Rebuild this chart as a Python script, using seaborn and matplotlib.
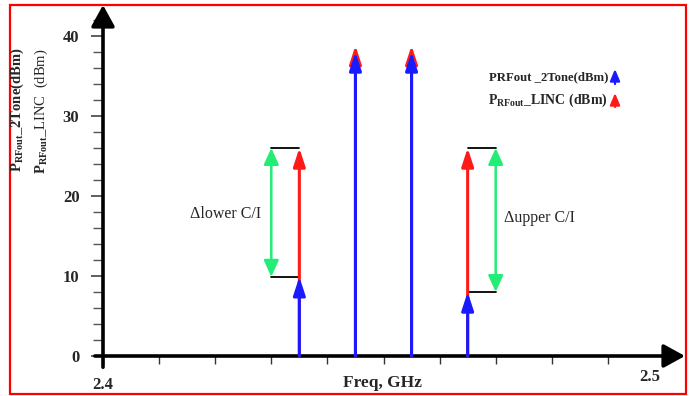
import matplotlib
matplotlib.use("Agg")
import matplotlib.pyplot as plt
from matplotlib.patches import Rectangle
from matplotlib.ticker import MultipleLocator
import seaborn as sns

# Two-tone / LINC output spectrum around 2.45 GHz
tone_freq = [2.435, 2.445, 2.455, 2.465]       # GHz: lower IM3, f1, f2, upper IM3
p_2tone = [9.9, 38.0, 38.0, 8.0]               # dBm, PRFout_2Tone
p_linc = [26.0, 38.8, 38.8, 26.0]              # dBm, PRFout_LINC
ci_freq = [2.43, 2.47]                         # marker positions for the C/I spans
ci_idx = [0, 3]                                # which tones the C/I spans refer to
ci_labels = ["\u0394lower C/I", "\u0394upper C/I"]
y_ticks = [0, 10, 20, 30, 40]
x_ticks = [2.40, 2.41, 2.42, 2.43, 2.44, 2.45, 2.46, 2.47, 2.48, 2.49, 2.50]

sns.set_theme(style="white")
plt.rcParams["font.family"] = ["Liberation Serif", "DejaVu Serif"]
plt.rcParams["mathtext.fontset"] = "custom"
plt.rcParams["mathtext.rm"] = "Liberation Serif"
plt.rcParams["mathtext.bf"] = "Liberation Serif:bold"
plt.rcParams["mathtext.it"] = "Liberation Serif:italic"

W, H = 691, 396
fig = plt.figure(figsize=(W / 100, H / 100), dpi=100)
fig.patch.set_facecolor("white")
ax = fig.add_axes([103 / W, 40 / H, 582 / W, 351 / H])
ax.set_facecolor("white")
ax.set_xlim(2.4, 2.4 + 582 / 5610)
ax.set_ylim(0, 351 / 8)
for s in ax.spines.values():
    s.set_visible(False)

# axis lines with arrow heads
ax.annotate("", xy=(0, 1), xytext=(0, -0.032), xycoords="axes fraction",
            arrowprops=dict(arrowstyle="-|>,head_length=1.0,head_width=0.55",
                            lw=2.6, color="black", mutation_scale=13,
                            shrinkA=0, shrinkB=0), annotation_clip=False)
ax.annotate("", xy=(1, 0), xytext=(-0.014, 0), xycoords="axes fraction",
            arrowprops=dict(arrowstyle="-|>,head_length=1.0,head_width=0.55",
                            lw=2.6, color="black", mutation_scale=13,
                            shrinkA=0, shrinkB=0), annotation_clip=False)

# ticks
ax.set_yticks(y_ticks)
ax.set_yticklabels([str(v) for v in y_ticks])
ax.yaxis.set_minor_locator(MultipleLocator(2))
ax.set_xticks(x_ticks)
ax.set_xticklabels(["2.4"] + [""] * (len(x_ticks) - 1))
ax.tick_params(axis="y", which="major", direction="out", length=9, width=1.1,
               color="#333333", pad=8, labelsize=12, left=True)
ax.tick_params(axis="y", which="minor", direction="out", length=7, width=1.0,
               color="#555555", left=True)
ax.tick_params(axis="x", which="major", direction="out", length=6, width=1.0,
               color="#333333", pad=9, labelsize=12, bottom=True)
for lab in ax.get_yticklabels() + ax.get_xticklabels():
    lab.set_fontweight("bold")
ax.text(2.4975, -2.6, "2.5", ha="center", va="center", fontsize=12,
        fontweight="bold", clip_on=False)

ax.text(2.4 + 280 / 5610, -3.4, "Freq, GHz", ha="center", va="center",
        fontsize=12.5, fontweight="bold", clip_on=False)

RED = "#ff1a1a"
BLUE = "#1a1aff"
GREEN = "#22ee77"


def varrow(x, y0, y1, color, lw=2.2, scale=10, hl=1.1, hw=0.36):
    ax.annotate("", xy=(x, y1), xytext=(x, y0),
                arrowprops=dict(arrowstyle=f"-|>,head_length={hl},head_width={hw}",
                                lw=lw, color=color, mutation_scale=scale,
                                shrinkA=0, shrinkB=0))


# LINC output (red) underneath, two-tone output (blue) on top
for f, pl in zip(tone_freq, p_linc):
    varrow(f, 0, pl, RED)
for f, pb in zip(tone_freq, p_2tone):
    varrow(f, 0, pb, BLUE)

# C/I spans between the two outputs at the IM3 tones
for cf, i, lab in zip(ci_freq, ci_idx, ci_labels):
    tf = tone_freq[i]
    ax.plot([cf, tf], [p_linc[i], p_linc[i]], color="black", lw=1.3)
    ax.plot([cf, tf], [p_2tone[i], p_2tone[i]], color="black", lw=1.3)
    ax.annotate("", xy=(cf, p_2tone[i]), xytext=(cf, p_linc[i]),
                arrowprops=dict(arrowstyle="<|-|>,head_length=1.1,head_width=0.5",
                                lw=1.8, color=GREEN, mutation_scale=9,
                                shrinkA=0, shrinkB=0))

ax.text(2.4 + 123 / 5610, 17.8, ci_labels[0], ha="center", va="center",
        fontsize=11.5)
ax.text(2.4 + 436 / 5610, 17.2, ci_labels[1], ha="center", va="center",
        fontsize=11.5)

# key
ax.text(2.4 + 505 / 5610, (356 - 77) / 8, "PRFout _2Tone(dBm)", ha="right",
        va="center", fontsize=9.2, fontweight="bold")
ax.text(2.4 + 505 / 5610, (356 - 100) / 8,
        r"$\mathbf{P}_{\mathbf{RFout}}$" + "_LINC (dBm)", ha="right",
        va="center", fontsize=10, fontweight="bold")
varrow(2.4 + 512 / 5610, (356 - 84) / 8, (356 - 69) / 8, BLUE, lw=1.6,
       scale=7, hl=1.0, hw=0.42)
varrow(2.4 + 512 / 5610, (356 - 107) / 8, (356 - 93) / 8, RED, lw=1.6,
       scale=7, hl=1.0, hw=0.42)

# y-axis titles
fig.text(17 / W, 1 - 110 / H, r"$\mathbf{P}_{\mathbf{RFout}}$" + "_2Tone(dBm)",
         rotation=90, ha="center", va="center", fontsize=10.5, fontweight="bold")
fig.text(41 / W, 1 - 111 / H, r"$\mathbf{P}_{\mathbf{RFout}}$" + "_LINC  (dBm)",
         rotation=90, ha="center", va="center", fontsize=10.5)

# red frame
fig.patches.append(Rectangle((10 / W, 2 / H), 676 / W, 389 / H,
                             transform=fig.transFigure, fill=False,
                             edgecolor="#ff0000", lw=1.6))

fig.savefig("out.png", dpi=100)
